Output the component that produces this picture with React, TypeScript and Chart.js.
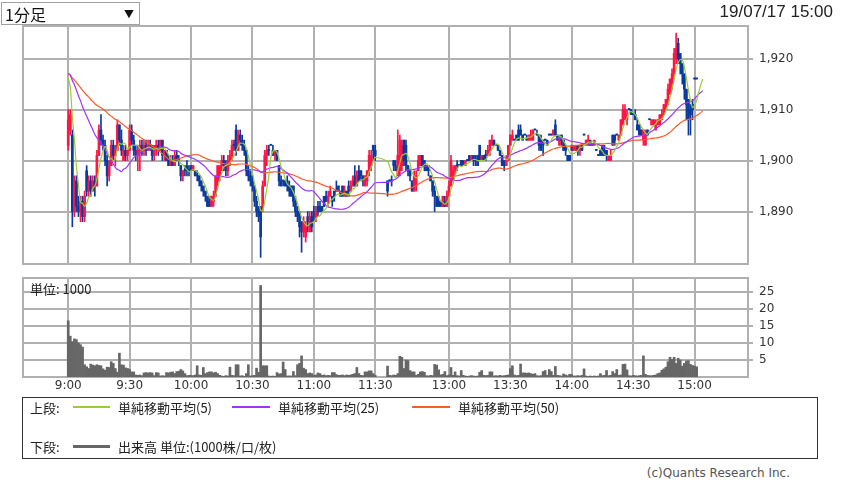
import React, { useEffect, useRef } from "react";
import { Chart, registerables } from "chart.js";
Chart.register(...registerables);

type Bar = [number, number, number, number]; // open, high, low, close

// closes of the previous session (feed the moving averages at 9:00)
const prevCloses = [
  1916, 1917, 1916, 1916, 1917, 1916, 1917, 1916, 1916, 1917,
  1917, 1916, 1917, 1917, 1916, 1917, 1917, 1916, 1917, 1917,
  1917, 1918, 1917, 1917, 1917, 1918, 1917, 1917, 1918, 1917,
  1917, 1918, 1917, 1917, 1918, 1917, 1917, 1918, 1917, 1918,
  1917, 1917, 1918, 1917, 1918, 1918, 1919, 1918, 1918,
];

// morning session 9:00 - 11:30, one bar per minute
const amBars: Bar[] = [
  [1903,1910,1902,1908],[1906,1910,1905,1909],[1905,1906,1887,1890],[1890,1897,1889,1896],[1896,1897,1890,1891],
  [1891,1893,1889,1890],[1890,1893,1888,1892],[1892,1893,1888,1889],[1889,1894,1888,1893],[1898,1899,1893,1894],
  [1894,1897,1893,1896],[1896,1897,1893,1894],[1894,1897,1894,1896],[1896,1897,1893,1895],[1895,1902,1895,1901],
  [1901,1907,1901,1906],[1906,1909,1903,1904],[1904,1905,1902,1903],[1903,1904,1899,1900],[1900,1901,1895,1897],
  [1897,1900,1896,1899],[1899,1904,1899,1903],[1903,1904,1900,1901],[1901,1903,1899,1902],[1902,1908,1902,1907],
  [1907,1907,1903,1904],[1904,1906,1901,1902],[1900,1903,1900,1902],[1902,1903,1900,1901],[1901,1902,1900,1902],
  [1902,1907,1902,1906],[1906,1907,1903,1904],[1904,1905,1901,1902],[1902,1903,1900,1901],[1901,1903,1898,1902],
  [1902,1904,1898,1903],[1903,1904,1901,1902],[1902,1904,1901,1903],[1903,1904,1901,1902],[1902,1904,1902,1903],
  [1903,1904,1902,1903],[1903,1903,1900,1901],[1901,1903,1900,1902],[1902,1904,1901,1903],[1903,1904,1901,1902],
  [1902,1904,1902,1904],[1904,1904,1900,1901],[1901,1902,1900,1902],[1902,1902,1900,1900],[1900,1901,1899,1899],
  [1899,1901,1899,1900],[1900,1901,1899,1899],[1899,1902,1899,1901],[1901,1902,1900,1900],[1900,1901,1899,1900],
  [1899,1899,1896,1897],[1897,1898,1896,1898],[1898,1899,1897,1898],[1899,1900,1897,1898],[1898,1899,1897,1898],
  [1899,1899,1898,1898],[1898,1899,1898,1899],[1898,1898,1897,1897],[1897,1898,1896,1897],[1897,1897,1895,1896],
  [1896,1896,1894,1895],[1895,1895,1893,1894],[1894,1894,1892,1893],[1893,1893,1891,1891],[1892,1893,1891,1891],
  [1891,1893,1891,1893],[1892,1894,1891,1893],[1893,1897,1893,1897],[1896,1899,1895,1899],[1897,1899,1896,1899],
  [1899,1901,1898,1900],[1900,1901,1898,1899],[1899,1900,1897,1898],[1898,1901,1897,1900],[1900,1902,1899,1901],
  [1901,1904,1900,1903],[1903,1904,1902,1903],[1906,1907,1901,1902],[1902,1906,1902,1905],[1905,1906,1903,1904],
  [1904,1905,1902,1903],[1903,1904,1901,1902],[1902,1902,1897,1898],[1898,1899,1896,1897],[1897,1898,1895,1896],
  [1896,1897,1894,1895],[1895,1895,1891,1892],[1892,1893,1889,1890],[1890,1891,1888,1889],[1891,1891,1881,1885],
  [1891,1896,1890,1895],[1895,1902,1895,1901],[1901,1903,1899,1902],[1902,1903,1901,1902],[1903,1903,1903,1903],
  [1902,1903,1901,1901],[1901,1902,1900,1902],[1902,1902,1900,1900],[1899,1899,1895,1896],[1896,1897,1895,1895],
  [1896,1896,1895,1896],[1896,1896,1895,1895],[1896,1897,1894,1895],[1895,1896,1893,1894],[1895,1895,1893,1893],
  [1895,1895,1891,1892],[1892,1893,1889,1890],[1890,1891,1888,1889],[1890,1890,1885,1887],[1888,1888,1882,1886],
  [1886,1889,1885,1888],[1885,1888,1884,1887],[1889,1890,1886,1888],[1886,1890,1886,1889],[1889,1890,1886,1887],
  [1890,1891,1888,1889],[1889,1891,1888,1890],[1891,1892,1889,1890],[1891,1892,1890,1890],[1891,1891,1890,1890],
  [1893,1893,1891,1891],[1893,1894,1892,1892],[1892,1894,1891,1893],[1893,1895,1893,1894],[1893,1893,1891,1892],
  [1894,1894,1892,1893],[1894,1896,1894,1894],[1895,1895,1894,1894],[1894,1894,1893,1893],[1895,1895,1893,1893],
  [1893,1895,1893,1894],[1894,1894,1893,1893],[1895,1896,1893,1894],[1894,1896,1894,1895],[1895,1897,1895,1896],
  [1897,1899,1895,1895],[1895,1898,1895,1897],[1898,1899,1896,1896],[1898,1898,1896,1897],[1897,1897,1895,1896],
  [1895,1897,1895,1897],[1896,1898,1895,1898],[1898,1902,1897,1901],[1899,1902,1898,1901],[1903,1903,1900,1902],
  [1902,1903,1900,1901],
];

// afternoon session 12:30 - 15:00
const pmBars: Bar[] = [
  [1896,1896,1893,1894],[1896,1896,1896,1896],[1896,1897,1895,1896],[1900,1900,1898,1899],[1899,1900,1898,1898],
  [1897,1906,1897,1901],[1898,1905,1897,1904],[1899,1904,1898,1903],[1904,1904,1899,1900],[1903,1904,1898,1899],
  [1899,1899,1897,1898],[1898,1898,1896,1897],[1896,1896,1894,1894],[1894,1898,1894,1897],[1895,1898,1894,1897],
  [1898,1901,1898,1900],[1899,1901,1899,1901],[1901,1901,1899,1899],[1900,1900,1898,1899],[1899,1899,1898,1898],
  [1899,1899,1897,1898],[1897,1897,1896,1896],[1896,1896,1893,1894],[1894,1895,1890,1893],[1893,1893,1891,1891],
  [1892,1893,1891,1891],[1892,1892,1891,1891],[1891,1893,1891,1893],[1892,1893,1891,1891],[1891,1894,1891,1893],
  [1893,1896,1893,1895],[1895,1901,1895,1900],[1896,1899,1896,1898],[1898,1899,1897,1899],[1899,1900,1898,1899],
  [1899,1899,1899,1899],[1900,1900,1899,1899],[1900,1900,1899,1899],[1899,1900,1899,1900],[1900,1900,1900,1900],
  [1901,1901,1900,1900],[1900,1901,1900,1901],[1901,1901,1899,1900],[1900,1901,1899,1900],[1901,1901,1899,1899],
  [1903,1903,1900,1900],[1900,1901,1900,1901],[1901,1901,1900,1900],[1901,1902,1900,1901],[1901,1903,1901,1902],
  [1902,1904,1901,1904],[1903,1905,1903,1904],[1904,1904,1903,1903],[1903,1903,1903,1903],[1903,1903,1902,1902],
  [1902,1902,1901,1901],[1901,1901,1899,1899],[1900,1900,1898,1899],[1899,1901,1899,1900],[1900,1903,1900,1903],
  [1903,1905,1903,1905],[1904,1906,1904,1905],[1904,1904,1904,1904],[1905,1905,1904,1904],[1906,1907,1904,1904],
  [1906,1907,1905,1905],[1905,1905,1904,1904],[1905,1905,1905,1905],[1904,1905,1904,1904],[1904,1905,1904,1905],
  [1904,1906,1904,1905],[1904,1906,1904,1906],[1906,1906,1906,1906],[1905,1906,1905,1905],[1905,1905,1902,1903],
  [1904,1905,1902,1902],[1904,1904,1901,1903],[1904,1904,1904,1904],[1904,1904,1903,1903],[1905,1905,1905,1905],
  [1905,1905,1905,1905],[1905,1906,1905,1906],[1907,1908,1905,1905],[1905,1905,1904,1904],[1903,1905,1903,1904],
  [1905,1905,1903,1904],[1904,1904,1902,1902],[1903,1903,1901,1902],[1901,1901,1900,1900],[1901,1901,1900,1900],
  [1903,1903,1902,1902],[1902,1903,1902,1903],[1902,1903,1902,1903],[1903,1903,1901,1902],[1902,1903,1901,1903],
  [1903,1903,1902,1902],[1905,1905,1905,1905],[1903,1904,1903,1904],[1903,1905,1903,1904],[1904,1904,1903,1903],
  [1903,1903,1903,1903],[1903,1904,1903,1904],[1902,1902,1902,1902],[1901,1901,1901,1901],[1902,1902,1901,1901],
  [1903,1903,1901,1901],[1902,1903,1901,1901],[1902,1902,1900,1901],[1900,1901,1900,1901],[1900,1902,1900,1901],
  [1905,1905,1903,1903],[1905,1905,1903,1904],[1905,1905,1905,1905],[1904,1905,1904,1905],[1905,1908,1905,1908],
  [1907,1911,1907,1910],[1908,1911,1908,1910],[1908,1910,1907,1909],[1910,1910,1910,1910],[1910,1910,1909,1909],
  [1909,1909,1909,1909],[1909,1910,1908,1908],[1907,1908,1906,1906],[1907,1907,1905,1905],[1906,1906,1905,1905],
  [1904,1906,1903,1906],[1903,1906,1903,1905],[1906,1906,1905,1905],[1908,1908,1908,1908],[1907,1908,1907,1908],
  [1907,1908,1907,1908],[1906,1908,1906,1907],[1907,1908,1907,1908],[1907,1909,1907,1909],[1908,1910,1908,1909],
  [1909,1911,1909,1911],[1910,1912,1910,1912],[1911,1915,1911,1914],[1913,1916,1913,1916],[1915,1918,1914,1917],
  [1917,1922,1916,1921],[1920,1925,1919,1922],[1923,1924,1919,1920],[1921,1921,1917,1919],[1919,1919,1915,1917],
  [1917,1917,1912,1914],[1914,1914,1908,1911],[1912,1912,1905,1908],[1910,1911,1905,1909],[1911,1912,1908,1910],
  [1916,1916,1916,1916],[1916,1916,1916,1916],
];

// last closes after the final drawn bar (moving averages only)
const pmTailCloses = [1916, 1916, 1916];

// volume, unit 1000
const amVolume = [
  16.5, 12, 10.4, 11.2, 11.0, 10, 9.5, 8.8, 3.6, 3.0,
  2.5, 3.8, 3.5, 3.3, 3.6, 3.4, 3.3, 2.4, 2.0, 2.9,
  2.8, 4.5, 4.0, 2.5, 1.4, 7.0, 3.6, 3.5, 2.7, 2.5,
  2.2, 1.5, 1.5, 0.6, 0.5, 0.6, 0.4, 1.2, 1.3, 1.2,
  1.3, 1.2, 0.4, 1.3, 1.2, 0.3, 0.4, 0.3, 1.3, 1.2,
  1.4, 1.5, 1.0, 1.6, 1.7, 2.2, 1.8, 1.0, 0.4, 0.5,
  0.5, 0.4, 0.6, 3.3, 0.6, 0.5, 2.8, 1.0, 1.3, 1.5,
  1.5, 1.2, 1.4, 1.0, 0.5, 0.3, 0.2, 0.4, 0.3, 2.9,
  0.5, 0.4, 3.6, 3.6, 0.3, 0.4, 0.2, 1.0, 3.6, 0.3,
  0.4, 0.5, 2.6, 1.4, 26.9, 3.3, 3.3, 3.3, 0.3, 0.2,
  0.3, 0.2, 1.3, 0.9, 1.0, 4.4, 2.2, 0.3, 0.3, 0.3,
  1.6, 0.4, 3.6, 4.0, 6.2, 2.6, 2.2, 1.0, 1.2, 1.0,
  0.5, 0.6, 1.2, 1.0, 0.5, 0.6, 0.4, 0.5, 0.4, 1.3,
  1.3, 0.7, 0.5, 0.5, 0.6, 0.4, 0.6, 0.5, 0.6, 0.8,
  1.0, 2.8, 1.0, 0.5, 0.4, 1.5, 1.5, 1.8, 1.8, 1.0, 0.5,
];
const pmVolume = [
  3.2, 0.5, 0.4, 0.6, 0.5, 1.0, 6.1, 5.8, 2.5, 5.0,
  4.8, 1.9, 1.5, 1.5, 0.5, 0.8, 1.5, 1.6, 1.4, 0.4,
  0.3, 0.5, 0.4, 3.7, 3.5, 2.1, 0.6, 0.8, 1.6, 0.4,
  0.6, 2.8, 0.5, 1.5, 0.4, 0.3, 1.9, 0.5, 0.3, 0.2,
  0.3, 0.4, 0.3, 0.2, 0.3, 1.4, 1.9, 0.5, 0.4, 0.5,
  1.5, 1.5, 0.3, 0.4, 0.3, 0.5, 0.3, 0.4, 0.5, 0.6,
  2.5, 3.3, 0.6, 0.4, 0.5, 3.8, 1.2, 1.2, 1.1, 1.2,
  1.0, 0.8, 1.0, 0.4, 0.3, 0.4, 1.6, 1.9, 0.5, 2.2,
  1.6, 0.5, 3.1, 0.5, 0.4, 0.3, 0.9, 0.6, 0.4, 0.8,
  0.7, 0.3, 0.3, 0.4, 0.3, 0.5, 2.4, 0.3, 0.2, 0.3,
  0.2, 0.3, 0.2, 0.3, 1.0, 0.4, 0.5, 1.9, 0.4, 0.5,
  1.6, 1.0, 2.2, 0.5, 0.6, 3.7, 3.8, 2.1, 0.4, 0.3,
  0.5, 0.4, 0.3, 0.4, 0.5, 6.2, 0.8, 0.5, 0.4, 0.4,
  0.5, 0.6, 1.0, 1.2, 2.0, 2.4, 2.9, 4.5, 5.8, 5.2,
  5.8, 4.0, 5.5, 5.0, 3.2, 4.0, 4.7, 4.8, 3.7, 3.4,
  3.2, 3.0,
];

const timeLabels = ["9:00", "9:30", "10:00", "10:30", "11:00", "11:30", "13:00", "13:30", "14:00", "14:30", "15:00"];
const timeTicks = [0, 30, 60, 90, 120, 150, 186, 216, 246, 276, 306];
const priceTicks = [1890, 1900, 1910, 1920];
const volumeTicks = [5, 10, 15, 20, 25];
const smaPeriods = [5, 25, 50];
const smaColors = ["#9acd32", "#a033ff", "#ff5a2a"];
const PM_START = 156;

const X_MIN = -22.1;
const X_MAX = 332.1;
const UP = "#ff1446";
const DOWN = "#0a3a9e";
const GRID = "#b0b0b0";
const GRID_W = 2;
const AXIS_FONT = { family: "'DejaVu Sans', sans-serif", size: 12 };
const JP = "'Noto Sans CJK JP', 'Noto Sans', sans-serif";

function buildData() {
  const candles = [
    ...amBars.map((b, i) => ({ x: i, b })),
    ...pmBars.map((b, j) => ({ x: PM_START + j, b })),
  ];
  const bodies = candles.map((c) => ({ x: c.x, y: [c.b[0], c.b[3]], up: c.b[3] > c.b[0] }));
  const wicks = candles.map((c) => ({ x: c.x, y: [c.b[2], c.b[1]], up: c.b[3] > c.b[0] }));
  const tailX = pmTailCloses.map((_, k) => PM_START + pmBars.length + k);
  const allX = [...candles.map((c) => c.x), ...tailX];
  const series = [...prevCloses, ...candles.map((c) => c.b[3]), ...pmTailCloses];
  const sma = (p: number) =>
    allX.map((x, i) => {
      const end = prevCloses.length + i;
      let s = 0;
      for (let k = end - p + 1; k <= end; k++) s += series[k];
      return { x, y: s / p };
    });
  const smaSets = smaPeriods.map((p) => sma(p));
  const vols = [
    ...amVolume.map((v, i) => ({ x: i, y: v })),
    ...pmVolume.map((v, j) => ({ x: PM_START + j, y: v })),
  ];
  return { bodies, wicks, smaSets, vols };
}

const framePlugin = {
  id: "frame",
  beforeDatasetsDraw(chart: any) {
    const { ctx, chartArea: a } = chart;
    ctx.save();
    ctx.strokeStyle = GRID;
    ctx.lineWidth = GRID_W;
    ctx.strokeRect(a.left, a.top, a.right - a.left, a.bottom - a.top);
    ctx.restore();
  },
};

function xScale(showLabels: boolean, height: number) {
  return {
    type: "linear",
    min: X_MIN,
    max: X_MAX,
    offset: false,
    afterBuildTicks: (s: any) => {
      s.ticks = timeTicks.map((v) => ({ value: v }));
    },
    afterFit: (s: any) => {
      s.height = height;
      s.paddingLeft = 0;
      s.paddingRight = 0;
    },
    grid: { color: GRID, lineWidth: GRID_W, drawTicks: false, offset: false },
    border: { display: false },
    ticks: {
      display: showLabels,
      autoSkip: false,
      maxRotation: 0,
      padding: 2,
      color: "#333",
      font: AXIS_FONT,
      callback: (_v: any, i: number) => timeLabels[i],
    },
  };
}

function yScale(min: number, max: number, ticks: number[], fmt: (v: number) => string) {
  return {
    position: "right",
    min,
    max,
    afterBuildTicks: (s: any) => {
      s.ticks = ticks.map((v) => ({ value: v }));
    },
    afterFit: (s: any) => {
      s.width = 94;
      s.paddingTop = 0;
      s.paddingBottom = 0;
    },
    grid: { color: GRID, lineWidth: GRID_W, drawTicks: true, tickLength: 5 },
    border: { display: false },
    ticks: { padding: 6, color: "#333", font: AXIS_FONT, callback: (v: any) => fmt(Number(v)) },
  };
}

const fmtPrice = (v: number) => {
  const s = String(Math.round(v));
  return s.length > 3 ? s.slice(0, s.length - 3) + "," + s.slice(-3) : s;
};

export default function App() {
  const topRef = useRef<HTMLCanvasElement>(null);
  const volRef = useRef<HTMLCanvasElement>(null);

  useEffect(() => {
    const { bodies, wicks, smaSets, vols } = buildData();
    const candleColor = (ctx: any) => (ctx.raw && ctx.raw.up ? UP : DOWN);
    const common = {
      animation: false,
      responsive: false,
      devicePixelRatio: 1,
      events: [],
      plugins: { legend: { display: false }, tooltip: { enabled: false } },
    };

    const top = new Chart(topRef.current as HTMLCanvasElement, {
      type: "bar",
      data: {
        datasets: [
          ...smaSets.map((d, i) => ({
            type: "line",
            data: d,
            borderColor: smaColors[i],
            borderWidth: 1.2,
            pointRadius: 0,
            tension: 0.3,
            order: i,
          })),
          {
            type: "bar",
            data: bodies,
            backgroundColor: candleColor,
            barThickness: 2,
            minBarLength: 1,
            grouped: false,
            order: 5,
          },
          {
            type: "bar",
            data: wicks,
            backgroundColor: candleColor,
            barThickness: 1,
            minBarLength: 1,
            grouped: false,
            order: 6,
          },
        ],
      } as any,
      options: {
        ...common,
        layout: { padding: { left: 23, top: 26, right: 0, bottom: 6 } },
        scales: {
          x: xScale(false, 0),
          y: yScale(1879.7, 1926.4, priceTicks, fmtPrice),
        },
      } as any,
      plugins: [framePlugin],
    });

    const vol = new Chart(volRef.current as HTMLCanvasElement, {
      type: "bar",
      data: {
        datasets: [
          {
            data: vols,
            backgroundColor: "#666666",
            barThickness: 2,
            grouped: false,
          },
        ],
      } as any,
      options: {
        ...common,
        layout: { padding: { left: 23, top: 8, right: 0, bottom: 0 } },
        scales: {
          x: xScale(true, 23),
          y: yScale(0, 29.1, volumeTicks, (v) => String(v)),
        },
      } as any,
      plugins: [framePlugin],
    });

    return () => {
      top.destroy();
      vol.destroy();
    };
  }, []);

  const abs = (o: React.CSSProperties): React.CSSProperties => ({ position: "absolute", ...o });
  const legendText: React.CSSProperties = { fontFamily: JP, fontSize: 13, color: "#222", lineHeight: "15px", whiteSpace: "nowrap" };

  return (
    <div style={abs({ left: 0, top: 0, width: 842, height: 487, background: "#fff", overflow: "hidden" })}>
      <canvas ref={topRef} width={842} height={270} style={abs({ left: 0, top: 0 })} />
      <canvas ref={volRef} width={842} height={130} style={abs({ left: 0, top: 270 })} />

      <div
        style={abs({
          left: 1, top: 2, width: 139, height: 23, boxSizing: "border-box",
          border: "1px solid #a0a0a0", background: "#fff",
        })}
      >
        <span style={abs({ left: 3, top: 1, fontFamily: JP, fontSize: 16, lineHeight: "20px", color: "#111" })}>1分足</span>
        <span style={abs({ left: 122, top: 4, fontFamily: JP, fontSize: 10, lineHeight: "14px", color: "#111" })}>▼</span>
      </div>
      <div style={abs({ right: 9, top: 2, fontFamily: "'Liberation Sans', Arial, sans-serif", fontSize: 17, lineHeight: "20px", color: "#222" })}>
        19/07/17 15:00
      </div>

      <div style={abs({ left: 30, top: 281, fontFamily: JP, fontSize: 13, lineHeight: "15px", color: "#222" })}>
        単位: 1000
      </div>

      <div style={abs({ left: 22, top: 397, width: 796, height: 62, boxSizing: "border-box", border: "1px solid #333" })} />
      <div style={abs({ left: 30, top: 400, ...legendText })}>上段:</div>
      <div style={abs({ left: 73, top: 406, width: 37, height: 2, background: smaColors[0] })} />
      <div style={abs({ left: 118, top: 400, ...legendText })}>単純移動平均(5)</div>
      <div style={abs({ left: 232, top: 406, width: 38, height: 2, background: smaColors[1] })} />
      <div style={abs({ left: 278, top: 400, ...legendText })}>単純移動平均(25)</div>
      <div style={abs({ left: 412, top: 406, width: 38, height: 2, background: smaColors[2] })} />
      <div style={abs({ left: 458, top: 400, ...legendText })}>単純移動平均(50)</div>

      <div style={abs({ left: 30, top: 439, ...legendText })}>下段:</div>
      <div style={abs({ left: 73, top: 445, width: 37, height: 3, background: "#666" })} />
      <div style={abs({ left: 118, top: 439, ...legendText })}>出来高 単位:(1000株/口/枚)</div>

      <div style={abs({ right: 52, top: 466, fontFamily: "'DejaVu Sans', sans-serif", fontSize: 12, lineHeight: "14px", color: "#555" })}>
        (c)Quants Research Inc.
      </div>
    </div>
  );
}
